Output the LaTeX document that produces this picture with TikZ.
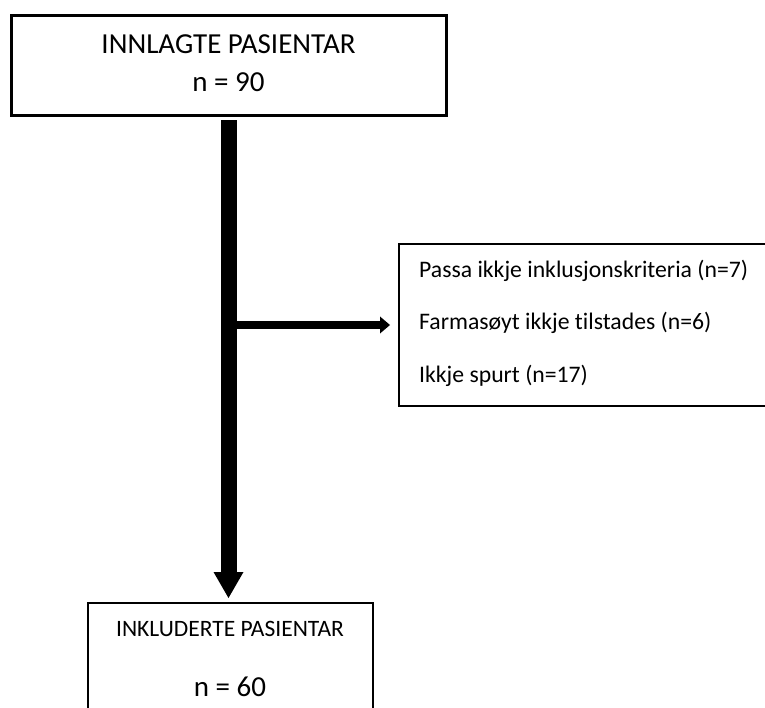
\documentclass[tikz,border=0pt]{standalone}
\usepackage{fontspec}
\setmainfont{Carlito}[Ligatures=NoCommon]
\usetikzlibrary{arrows.meta}

\begin{document}
\begin{tikzpicture}[x=1pt,y=-1pt]
\tikzset{
  bigbox/.style={draw,line width=3pt,minimum width=435pt,minimum height=100pt,
                 align=center,font=\fontsize{29}{38}\selectfont},
  endbox/.style={draw,line width=2pt,minimum width=285pt,inner ysep=18pt,
                 align=center,font=\fontsize{23.5}{60}\selectfont},
  exclbox/.style={draw,line width=2pt,minimum width=420pt,minimum height=162pt},
  reason/.style={inner sep=0pt,anchor=base west,font=\fontsize{23.7}{28}\selectfont},
  mainflow/.style={line width=16pt,-{Triangle[width=30pt,length=26pt,line width=0pt]}},
  sideflow/.style={line width=8pt,-{Triangle[width=17pt,length=10pt,line width=0pt]}}
}
\useasboundingbox (0,0) rectangle (765,708);
\clip (0,0) rectangle (765,708);
\node[bigbox] (admitted) at (228.5,66) {INNLAGTE PASIENTAR\\n = 90\rule[-6.6pt]{0pt}{0pt}};
\node[endbox,anchor=north] (included) at (230,602) {INKLUDERTE PASIENTAR\\{\fontsize{29}{60}\selectfont n = 60}};
\node[exclbox,anchor=north west] (excluded) at (398,243) {};
\node[reason] (crit) at (419,278) {Passa ikkje inklusjonskriteria (n=7)};
\node[reason] (pharm) at (419,330) {Farmasøyt ikkje tilstades (n=6)};
\node[reason] (asked) at (419,382) {Ikkje spurt (n=17)};
\coordinate (branch) at (228,325);
\draw[mainflow,shorten <=3pt,shorten >=4pt] (admitted.south) -- (admitted.south |- included.north);
\draw[sideflow,shorten >=8pt] (branch) -- (branch -| excluded.west);
\end{tikzpicture}
\end{document}
